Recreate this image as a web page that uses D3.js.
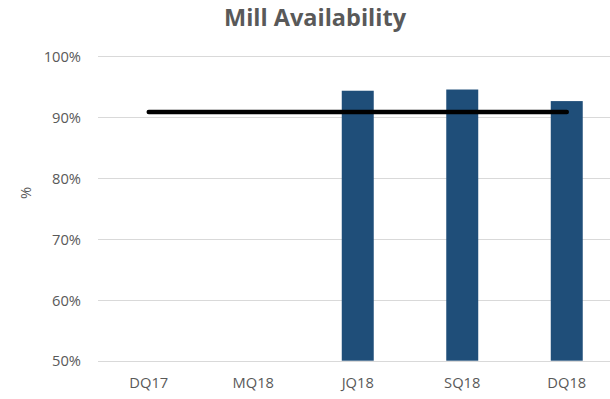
<!DOCTYPE html>
<html>
<head>
<meta charset="utf-8">
<script src="https://cdn.jsdelivr.net/npm/d3@7"></script>
<style>
  html, body { margin: 0; padding: 0; background: #fff; }
  svg { display: block; }
  text { font-family: "Open Sans", sans-serif; fill: #595959; }
</style>
</head>
<body>
<svg id="chart" width="610" height="399"></svg>
<script>
// Quarterly mill availability (fraction) and the target line
const categories = ["DQ17", "MQ18", "JQ18", "SQ18", "DQ18"];
const availability = [null, null, 0.943, 0.945, 0.926];
const target = [0.908, 0.908, 0.908, 0.908, 0.908];
const yTicks = [0.5, 0.6, 0.7, 0.8, 0.9, 1.0];

const svg = d3.select("#chart");
const margin = { left: 96.5, right: -9, top: 56, bottom: 38.3 };
const W = 610, H = 399;

const x = d3.scaleBand()
  .domain(categories)
  .range([margin.left, W - margin.right])
  .paddingInner(0.694)
  .paddingOuter(0.347);

const y = d3.scaleLinear()
  .domain([0.5, 1.0])
  .range([H - margin.bottom, margin.top]);

// Title
svg.append("text")
  .attr("x", 315)
  .attr("y", 26)
  .attr("text-anchor", "middle")
  .style("font-size", "23.5px")
  .style("font-weight", "bold")
  .text("Mill Availability");

// Horizontal gridlines
svg.append("g")
  .selectAll("line")
  .data(yTicks)
  .join("line")
  .attr("x1", 98)
  .attr("x2", W)
  .attr("y1", d => Math.round(y(d)) + 0.5)
  .attr("y2", d => Math.round(y(d)) + 0.5)
  .attr("stroke", "#d9d9d9")
  .attr("stroke-width", 1.2);

// Y axis labels
const yAxis = d3.axisLeft(y)
  .tickValues(yTicks)
  .tickFormat(d3.format(".0%"))
  .tickSize(0)
  .tickPadding(0);
const gy = svg.append("g")
  .attr("transform", "translate(81,0)")
  .call(yAxis);
gy.select(".domain").remove();
gy.selectAll("text")
  .attr("dy", "0.36em")
  .style("font-size", "14.7px")
  .style("font-family", "'Open Sans', sans-serif")
  .attr("fill", "#595959");

// Y axis title
svg.append("text")
  .attr("transform", "translate(26,193) rotate(-90)")
  .attr("text-anchor", "middle")
  .attr("dy", "0.36em")
  .style("font-size", "14.7px")
  .text("%");

// X axis labels
const xAxis = d3.axisBottom(x).tickSize(0).tickPadding(0);
const gx = svg.append("g")
  .attr("transform", `translate(0,${y(0.5)})`)
  .call(xAxis);
gx.select(".domain").remove();
gx.selectAll("text")
  .attr("y", 27.5)
  .attr("dy", 0)
  .style("font-size", "14.7px")
  .style("font-family", "'Open Sans', sans-serif")
  .attr("fill", "#595959");

// Bars
svg.append("g")
  .selectAll("rect")
  .data(categories.map((c, i) => ({ c, v: availability[i] })).filter(d => d.v != null))
  .join("rect")
  .attr("x", d => x(d.c))
  .attr("width", x.bandwidth())
  .attr("y", d => y(d.v))
  .attr("height", d => y(0.5) - y(d.v))
  .attr("fill", "#1f4e79");

// Target line
const line = d3.line()
  .x((d, i) => x(categories[i]) + x.bandwidth() / 2)
  .y(d => y(d));
svg.append("path")
  .datum(target)
  .attr("d", line)
  .attr("fill", "none")
  .attr("stroke", "#000")
  .attr("stroke-width", 4.5)
  .attr("stroke-linecap", "round");
</script>
</body>
</html>
